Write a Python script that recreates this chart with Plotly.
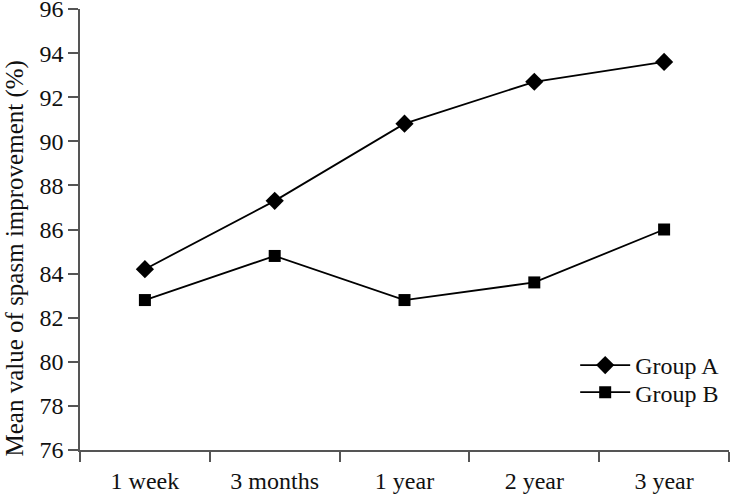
import plotly.graph_objects as go

categories = ["1 week", "3 months", "1 year", "2 year", "3 year"]
group_a = [84.2, 87.3, 90.8, 92.7, 93.6]
group_b = [82.8, 84.8, 82.8, 83.6, 86.0]
y_ticks = [76, 78, 80, 82, 84, 86, 88, 90, 92, 94, 96]
y_title = "Mean value of spasm improvement (%)"

FONT = "Liberation Serif"

fig = go.Figure()
fig.add_trace(go.Scatter(
    x=categories, y=group_a, name="Group A", mode="lines+markers",
    line=dict(color="black", width=1.8),
    marker=dict(symbol="diamond", size=14, color="black"),
    legend="legend",
))
fig.add_trace(go.Scatter(
    x=categories, y=group_b, name="Group B", mode="lines+markers",
    line=dict(color="black", width=1.8),
    marker=dict(symbol="square", size=12, color="black"),
    legend="legend2",
))

legend_style = dict(xanchor="left", yanchor="top", bgcolor="rgba(0,0,0,0)",
                    font=dict(family=FONT, size=24, color="#111"),
                    itemsizing="trace", itemwidth=50)

fig.update_layout(
    width=730, height=498,
    margin=dict(l=80, r=1, t=9, b=48, autoexpand=False),
    plot_bgcolor="white", paper_bgcolor="white",
    font=dict(family=FONT, size=24, color="#111"),
    showlegend=True,
    legend=dict(x=0.763, y=0.2426, **legend_style),
    legend2=dict(x=0.763, y=0.1812, **legend_style),
)
fig.add_annotation(
    text=y_title, textangle=-90, showarrow=False,
    xref="paper", x=0, xanchor="center", xshift=-66,
    yref="paper", y=0.5, yanchor="middle", yshift=-29,
    font=dict(family=FONT, size=25, color="#111"),
)
fig.update_xaxes(
    type="category", range=[-0.5, 4.5], automargin=False,
    showline=True, linecolor="#555", linewidth=1.5,
    ticks="outside", ticklen=10, tickcolor="#555", tickwidth=1.5,
    tickson="boundaries", showgrid=False, zeroline=False,
    ticklabeloverflow="allow", ticklabelstandoff=8,
)
fig.update_yaxes(
    range=[76, 96], tickvals=y_ticks, automargin=False,
    showline=True, linecolor="#555", linewidth=1.5,
    ticks="outside", ticklen=10, tickcolor="#555", tickwidth=1.5,
    showgrid=False, zeroline=False, ticklabeloverflow="allow",
)
fig.write_html("out.html", config={"displayModeBar": False},
               post_script="document.body.style.margin='0';")
